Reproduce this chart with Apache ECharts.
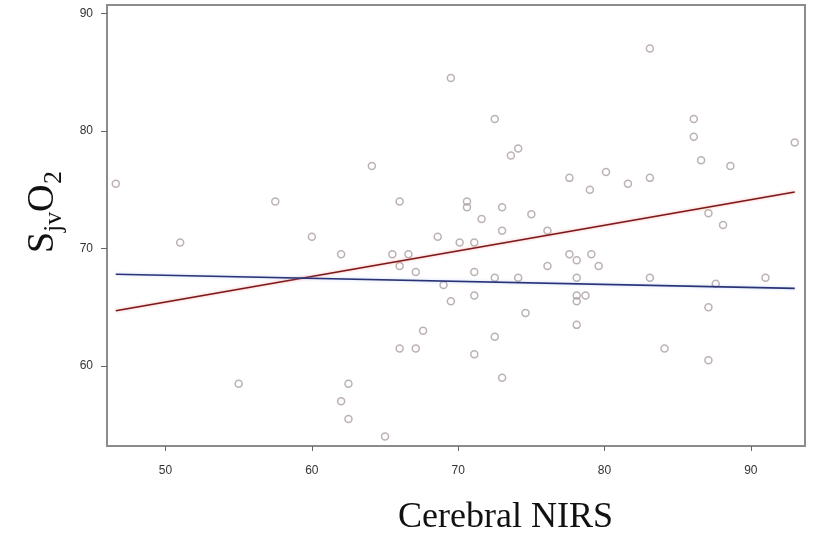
<!DOCTYPE html>
<html>
<head>
<meta charset="utf-8">
<script src="https://cdn.jsdelivr.net/npm/echarts@6/dist/echarts.min.js"></script>
<style>
html,body{margin:0;padding:0;background:#fff;}
#main{width:815px;height:539px;}
</style>
</head>
<body>
<div id="main"></div>
<script>
// Cerebral NIRS (x) vs SjvO2 (y)
var nirs = [46.6, 57.5, 69.5, 72.5, 74.1, 73.6, 64.1, 77.6, 66.0, 70.6, 70.6, 71.6, 73.0, 75.0,
  83.1, 86.1, 86.1, 93.0, 86.6, 88.6, 80.1, 79.0, 81.6, 83.1, 87.1, 88.1,
  51.0, 60.0, 62.0, 55.0, 62.0,
  68.6, 73.0, 76.1, 70.1, 71.1, 65.5, 66.6, 66.0, 67.1, 71.1, 76.1, 77.6, 72.5, 74.1,
  69.0, 71.1, 69.5, 74.6, 67.6, 66.0, 67.1, 72.5, 71.1, 73.0, 62.5, 62.5, 65.0,
  78.1, 79.1, 79.6, 78.1, 78.1, 78.7, 78.1, 78.1, 83.1, 87.6, 91.0, 87.1, 84.1, 87.1];
var sjvo2 = [75.5, 74.0, 84.5, 81.0, 78.5, 77.9, 77.0, 76.0, 74.0, 74.0, 73.5, 72.5, 73.5, 72.9,
  87.0, 81.0, 79.5, 79.0, 77.5, 77.0, 76.5, 75.0, 75.5, 76.0, 73.0, 72.0,
  70.5, 71.0, 69.5, 58.5, 57.0,
  71.0, 71.5, 71.5, 70.5, 70.5, 69.5, 69.5, 68.5, 68.0, 68.0, 68.5, 69.5, 67.5, 67.5,
  66.9, 66.0, 65.5, 64.5, 63.0, 61.5, 61.5, 62.5, 61.0, 59.0, 58.5, 55.5, 54.0,
  69.0, 69.5, 68.5, 67.5, 66.0, 66.0, 65.5, 63.5, 67.5, 67.0, 67.5, 65.0, 61.5, 60.5];
// fitted lines (endpoints)
var redLineX = [46.6, 93.0];
var redLineY = [64.7, 74.8];
var blueLineX = [46.6, 93.0];
var blueLineY = [67.8, 66.6];
var xTicks = [50, 60, 70, 80, 90];
var yTicks = [60, 70, 80, 90];

function pairs(xs, ys){ return xs.map(function(v,i){ return [v, ys[i]]; }); }

var chart = echarts.init(document.getElementById('main'), null, {renderer:'canvas'});
var axisColor = '#8c8c8c';
var serif = '"Liberation Serif", "Times New Roman", serif';
chart.setOption({
  animation: false,
  backgroundColor: '#fff',
  grid: {left: 107, right: 10, top: 5, bottom: 93, show: true, borderColor: axisColor, borderWidth: 2},
  xAxis: {
    type: 'value', min: 46, max: 93.7,
    axisLine: {show: true, lineStyle: {color: axisColor, width: 2}},
    axisTick: {show: true, customValues: xTicks, length: 5, lineStyle: {color: '#666', width: 1}},
    axisLabel: {customValues: xTicks, margin: 19, color: '#333', fontSize: 12, fontFamily: 'Liberation Sans, Arial, sans-serif'},
    splitLine: {show: false}
  },
  yAxis: {
    type: 'value', min: 53.2, max: 90.7,
    axisLine: {show: true, lineStyle: {color: axisColor, width: 2}},
    axisTick: {show: true, customValues: yTicks, length: 6, lineStyle: {color: '#666', width: 1}},
    axisLabel: {customValues: yTicks, margin: 14, color: '#333', fontSize: 12, fontFamily: 'Liberation Sans, Arial, sans-serif'},
    splitLine: {show: false}
  },
  series: [
    {
      type: 'scatter', data: pairs(nirs, sjvo2), symbol: 'circle', symbolSize: 7,
      itemStyle: {color: 'rgba(255,255,255,0)', borderColor: '#ab9da1', borderWidth: 1.5}
    },
    {
      type: 'line', data: pairs(redLineX, redLineY), symbol: 'none',
      lineStyle: {color: '#7d1818', width: 1.6, shadowColor: 'rgba(240,130,130,0.7)', shadowBlur: 3}
    },
    {
      type: 'line', data: pairs(blueLineX, blueLineY), symbol: 'none',
      lineStyle: {color: '#2a3378', width: 1.6, shadowColor: 'rgba(140,170,230,0.5)', shadowBlur: 3}
    }
  ],
  graphic: [
    {
      type: 'text', left: 398, top: 500,
      style: {text: 'Cerebral NIRS', fill: '#111', font: '36px ' + serif}
    },
    {
      type: 'group', x: 24, y: 253, rotation: Math.PI / 2,
      children: [
        {type: 'text', x: 0, y: 0, style: {text: 'S', fill: '#111', font: '38px ' + serif}},
        {type: 'text', x: 21, y: 17, style: {text: 'jv', fill: '#111', font: '26px ' + serif}},
        {type: 'text', x: 41, y: 0, style: {text: 'O', fill: '#111', font: '38px ' + serif}},
        {type: 'text', x: 69, y: 17, style: {text: '2', fill: '#111', font: '26px ' + serif}}
      ]
    }
  ]
});
</script>
</body>
</html>
